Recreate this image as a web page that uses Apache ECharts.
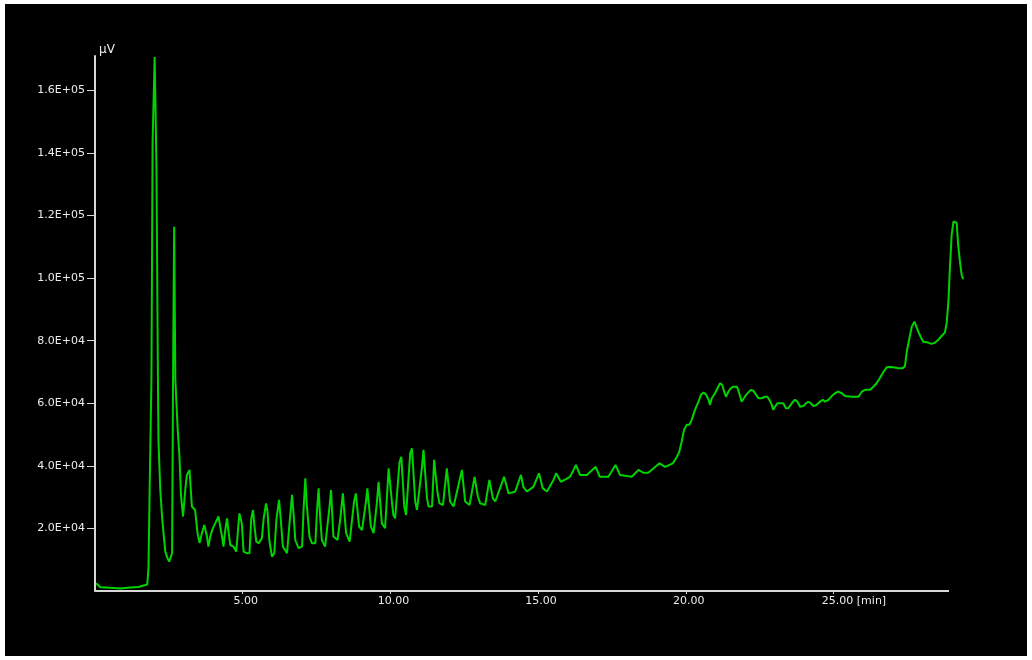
<!DOCTYPE html>
<html>
<head>
<meta charset="utf-8">
<title>Chromatogram</title>
<script src="https://cdn.jsdelivr.net/npm/echarts@6/dist/echarts.min.js"></script>
<style>
  html, body { margin: 0; padding: 0; background: #ffffff; }
  #chart { position: absolute; left: 5px; top: 4px; width: 1022px; height: 652px; background: #000000; }
</style>
</head>
<body>
<div id="chart"></div>
<script>
// Retention time [min]
const times = [
  0.04, 0.18, 0.52, 0.86, 1.19, 1.47, 1.70, 1.77, 1.81, 1.85, 1.91, 1.95, 2.02, 2.08, 2.13, 2.15,
  2.21, 2.27, 2.32, 2.38, 2.45, 2.51, 2.61, 2.64, 2.66, 2.68, 2.72, 2.80, 2.86, 2.91, 2.98, 3.06,
  3.11, 3.20, 3.28, 3.39, 3.47, 3.54, 3.62, 3.70, 3.79, 3.84, 3.90, 3.99, 4.07, 4.13, 4.18, 4.30,
  4.35, 4.41, 4.47, 4.52, 4.58, 4.69, 4.78, 4.86, 4.89, 4.97, 5.03, 5.14, 5.23, 5.29, 5.35, 5.40,
  5.46, 5.54, 5.65, 5.71, 5.79, 5.84, 5.90, 5.99, 6.07, 6.14, 6.23, 6.29, 6.36, 6.50, 6.59, 6.67,
  6.72, 6.78, 6.89, 7.01, 7.06, 7.12, 7.17, 7.26, 7.34, 7.46, 7.51, 7.57, 7.62, 7.68, 7.79, 7.85,
  7.94, 7.99, 8.07, 8.21, 8.30, 8.39, 8.50, 8.62, 8.77, 8.83, 8.94, 9.04, 9.18, 9.22, 9.34, 9.43,
  9.54, 9.60, 9.71, 9.82, 9.94, 10.05, 10.10, 10.16, 10.31, 10.37, 10.47, 10.53, 10.67, 10.73, 10.84, 10.90,
  11.07, 11.12, 11.24, 11.29, 11.41, 11.48, 11.59, 11.66, 11.78, 11.91, 12.02, 12.14, 12.42, 12.53, 12.68, 12.85,
  12.96, 13.04, 13.21, 13.35, 13.47, 13.55, 13.85, 14.00, 14.22, 14.42, 14.50, 14.62, 14.84, 15.03, 15.16, 15.30,
  15.52, 15.61, 15.77, 16.08, 16.20, 16.28, 16.42, 16.65, 16.95, 17.09, 17.38, 17.62, 17.77, 18.17, 18.40, 18.56,
  18.73, 19.11, 19.30, 19.56, 19.70, 19.78, 19.86, 19.94, 20.03, 20.12, 20.20, 20.31, 20.43, 20.51, 20.60, 20.69,
  20.77, 20.82, 20.88, 20.99, 21.16, 21.23, 21.30, 21.36, 21.44, 21.52, 21.61, 21.73, 21.81, 21.89, 21.95, 22.04,
  22.20, 22.29, 22.38, 22.46, 22.57, 22.68, 22.76, 22.83, 22.91, 22.96, 23.02, 23.10, 23.21, 23.30, 23.39, 23.47,
  23.55, 23.63, 23.70, 23.78, 23.87, 23.98, 24.07, 24.15, 24.23, 24.32, 24.43, 24.54, 24.64, 24.71, 24.83, 24.94,
  25.05, 25.16, 25.28, 25.39, 25.62, 25.84, 25.96, 26.07, 26.24, 26.35, 26.46, 26.57, 26.69, 26.80, 26.91, 27.03,
  27.19, 27.34, 27.42, 27.48, 27.57, 27.65, 27.74, 27.80, 27.87, 27.95, 28.04, 28.20, 28.32, 28.44, 28.55, 28.66,
  28.77, 28.83, 28.89, 28.94, 29.00, 29.06, 29.11, 29.17, 29.22, 29.28, 29.34, 29.39
];

// Detector signal [µV]
const signal = [
  2500, 1200, 1000, 800, 1100, 1300, 1900, 2100, 7300, 32300, 67500, 143600, 170700, 135900, 67500, 47700,
  32300, 23800, 18500, 12600, 10600, 9400, 12100, 64300, 93000, 116400, 67500, 51500, 42900, 30700, 23800, 32800,
  37100, 38700, 27000, 25900, 18500, 15300, 18500, 21100, 17400, 14200, 17400, 20100, 21600, 21100, 23800, 17400,
  14200, 19500, 23200, 19000, 14700, 14200, 12600, 21600, 24800, 21600, 12600, 12100, 12100, 23200, 25900, 20600,
  15800, 15300, 16900, 23200, 28000, 25400, 16300, 11000, 12100, 22700, 29100, 22700, 14200, 12100, 22200, 30700,
  24900, 16300, 13700, 14200, 25900, 36000, 27500, 17400, 15300, 15300, 24800, 32800, 23800, 16300, 14200, 14700,
  27000, 32300, 17400, 16300, 22700, 31200, 18500, 15800, 28600, 31200, 20600, 19500, 29100, 32800, 20600, 18500,
  28000, 34900, 21600, 20100, 39200, 28600, 24300, 23200, 41300, 42900, 27000, 24300, 44000, 45600, 28600, 25900,
  39700, 45100, 29600, 27000, 27000, 41900, 31800, 28000, 27500, 39200, 28600, 27000, 38700, 28600, 27500, 36500,
  30200, 28000, 27500, 35500, 29600, 28600, 36500, 31200, 31700, 37100, 33300, 31800, 33300, 37600, 32800, 31800,
  35500, 37600, 34900, 36500, 38700, 40300, 37100, 37100, 39700, 36500, 36500, 40300, 37100, 36500, 38700, 37800,
  37800, 40800, 39700, 40800, 42900, 44500, 47700, 51500, 53100, 53100, 54700, 57900, 60500, 62700, 63400, 62700,
  61100, 59500, 61600, 63200, 66400, 65900, 63700, 62100, 63700, 64800, 65300, 65300, 63200, 60500, 61100, 62700,
  64300, 64000, 62700, 61600, 61600, 62100, 62100, 61100, 59500, 57900, 58900, 60000, 60000, 60000, 58400, 58400,
  59500, 60500, 61100, 60500, 58900, 59100, 60000, 60500, 60000, 59100, 59500, 60500, 61100, 60500, 61100, 62300,
  63200, 63700, 63200, 62300, 62100, 62100, 63700, 64300, 64300, 65300, 66400, 68100, 70000, 71500, 71600, 71500,
  71200, 71200, 71900, 76500, 80800, 84500, 86100, 85700, 82900, 81200, 79700, 79400, 79000, 79400, 80300, 81500,
  82600, 85600, 92500, 103200, 113800, 118100, 118600, 117700, 110600, 105300, 101000, 99700
];

// Axis ticks and ranges
const xTicks = [5, 10, 15, 20, 25];
const yTicks = [20000, 40000, 60000, 80000, 100000, 120000, 140000, 160000];
const xAxisEnd = 28.91;   // where the drawn time axis stops
const xRange = 29.40;     // run length; the trace continues slightly past the axis
const yMax = 171000;

const points = times.map((t, i) => [t, signal[i]]);

const axisColor = '#d8d8d8';
const textColor = '#ececec';
const fontFamily = '"DejaVu Sans", sans-serif';

function sciLabel(v) {
  const e = Math.floor(Math.log10(v) + 1e-9);
  const m = v / Math.pow(10, e);
  return m.toFixed(1) + 'E+' + String(e).padStart(2, '0');
}

// Plot width for the axis part is 854px; widen the grid so the same px/min scale covers the whole run
const gridLeft = 90;
const axisWidth = 854;
const plotWidth = axisWidth * xRange / xAxisEnd;
const chartWidth = 1022;

const chart = echarts.init(document.getElementById('chart'), null, { renderer: 'canvas' });

chart.setOption({
  backgroundColor: '#000000',
  animation: false,
  grid: { left: gridLeft, top: 52, right: chartWidth - gridLeft - plotWidth, bottom: 65, containLabel: false },
  xAxis: {
    type: 'value',
    min: 0,
    max: xRange,
    interval: 5,
    splitLine: { show: false },
    axisLine: { show: false },
    axisTick: { show: true, length: 3, inside: false, customValues: xTicks, lineStyle: { color: axisColor, width: 1 } },
    axisLabel: {
      customValues: xTicks,
      margin: 5,
      color: textColor,
      fontFamily: fontFamily,
      fontSize: 11,
      padding: [0, 0, 0, 6],
      formatter: function (v) {
        if (v === 25) return '{s| }25.00 [min]';
        return v.toFixed(2);
      },
      rich: { s: { width: 35 } }
    }
  },
  yAxis: {
    type: 'value',
    min: 0,
    max: yMax,
    interval: 20000,
    name: 'µV',
    nameLocation: 'end',
    nameGap: 0,
    nameTextStyle: { color: textColor, fontFamily: fontFamily, fontSize: 12, align: 'left', padding: [0, 0, 0, 4] },
    splitLine: { show: false },
    axisLine: { show: true, onZero: false, lineStyle: { color: axisColor, width: 2 } },
    axisTick: { show: true, length: 8, inside: false, customValues: yTicks, lineStyle: { color: axisColor, width: 1 } },
    axisLabel: {
      customValues: yTicks,
      margin: 10,
      color: textColor,
      fontFamily: fontFamily,
      fontSize: 11,
      formatter: sciLabel
    }
  },
  series: [{
    type: 'line',
    data: points,
    showSymbol: false,
    symbol: 'none',
    lineStyle: { color: '#00d400', width: 2 },
    emphasis: { disabled: true },
    z: 3,
    // time axis line, stopping at the end of the labelled range
    markLine: {
      silent: true,
      symbol: 'none',
      label: { show: false },
      animation: false,
      z: 2,
      lineStyle: { color: axisColor, width: 2, type: 'solid' },
      data: [[{ coord: [0, 0] }, { coord: [xAxisEnd, 0] }]]
    }
  }]
});
</script>
</body>
</html>
